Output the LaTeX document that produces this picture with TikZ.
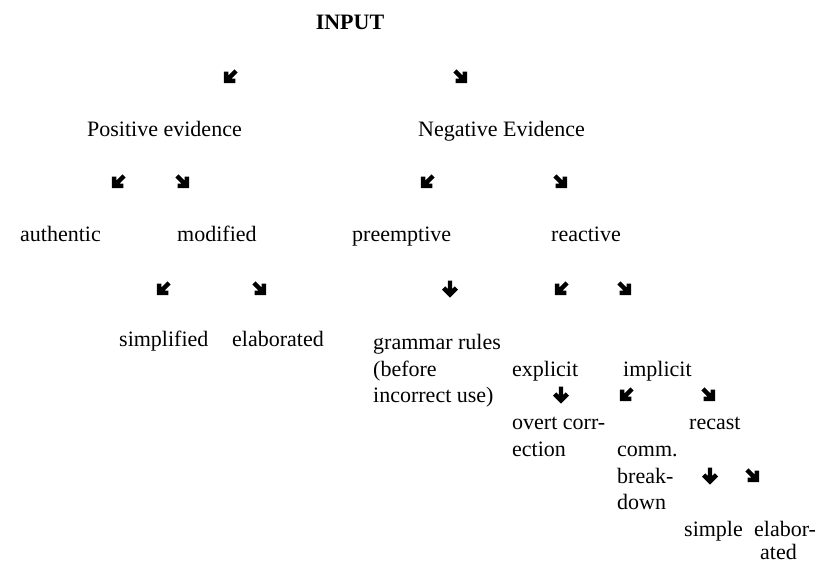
\documentclass[tikz,border=0pt]{standalone}
\usepackage{fontspec}
\setmainfont{Liberation Serif}
\begin{document}
\begin{tikzpicture}[x=1pt,y=-1pt,
  lbl/.style={anchor=base west,inner sep=0pt,font=\fontsize{22}{26.5}\selectfont},
  ttl/.style={anchor=base,inner sep=0pt,font=\fontsize{22}{26.5}\selectfont\bfseries},
  bigarrow/.pic={\fill (-2.2,-8.5) -- (2.2,-8.5) -- (2.2,-0.06) -- (4.82,-2.68) -- (8,0.5) -- (0,8.5) -- (-8,0.5) -- (-4.82,-2.68) -- (-2.2,-0.06) -- cycle;}]
\fill[white] (0,0) rectangle (819,563);
\useasboundingbox (0,0) rectangle (819,563);

% texts
\node[ttl] (input) at (350,29) {INPUT};
\node[lbl] (pos) at (87,136) {Positive evidence};
\node[lbl] (neg) at (418,136) {Negative Evidence};
\node[lbl] (auth) at (20,241) {authentic};
\node[lbl] (mod) at (177,241) {modified};
\node[lbl] (pre) at (352,241) {preemptive};
\node[lbl] (rea) at (551,241) {reactive};
\node[lbl] (simp) at (119,346) {simplified};
\node[lbl] (elab) at (232,346) {elaborated};
\node[lbl] (gr1) at (373,349) {grammar rules};
\node[lbl] (gr2) at (373,376) {(before};
\node[lbl] (gr3) at (373,402) {incorrect use)};
\node[lbl] (expl) at (512,376) {explicit};
\node[lbl] (impl) at (623,376) {implicit};
\node[lbl] (ov1) at (512,429) {overt corr-};
\node[lbl] (ov2) at (512,456) {ection};
\node[lbl] (rec) at (689,429) {recast};
\node[lbl] (cb1) at (617,456) {comm.};
\node[lbl] (cb2) at (617,483) {break-};
\node[lbl] (cb3) at (617,509) {down};
\node[lbl] (rs) at (684,536) {simple};
\node[lbl] (re1) at (754,536) {elabor-};
\node[lbl] (re2) at (760,559) {ated};

% arrow glyphs
\pic[rotate=-45] at (230,77) {bigarrow};
\pic[rotate=45] at (461,77) {bigarrow};
\pic[rotate=-45] at (118,182) {bigarrow};
\pic[rotate=45] at (183,182) {bigarrow};
\pic[rotate=-45] at (427,182) {bigarrow};
\pic[rotate=45] at (561,182) {bigarrow};
\pic[rotate=-45] at (163,289) {bigarrow};
\pic[rotate=45] at (260,289) {bigarrow};
\pic at (450,289) {bigarrow};
\pic[rotate=-45] at (561,289) {bigarrow};
\pic[rotate=45] at (625,289) {bigarrow};
\pic at (561,395) {bigarrow};
\pic[rotate=-45] at (626,395) {bigarrow};
\pic[rotate=45] at (709,395) {bigarrow};
\pic at (710,476) {bigarrow};
\pic[rotate=45] at (753,476) {bigarrow};
\end{tikzpicture}
\end{document}
